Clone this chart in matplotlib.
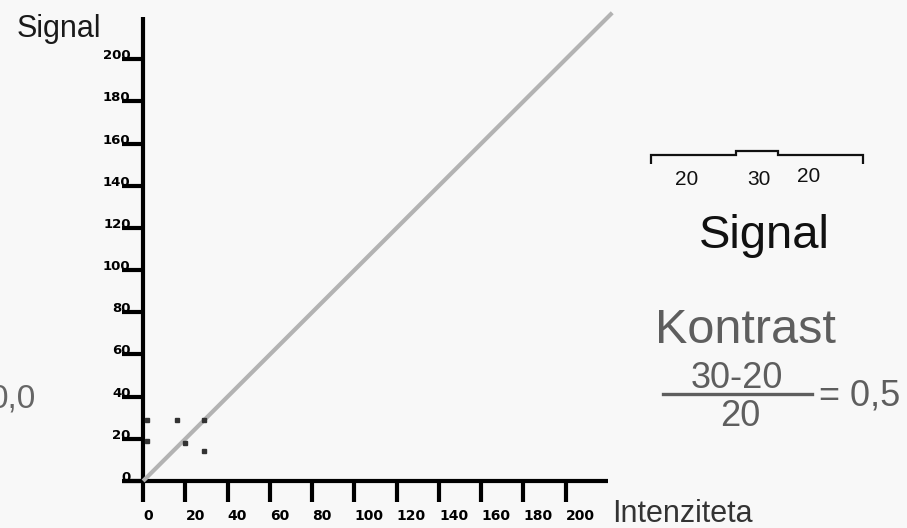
import matplotlib
matplotlib.use("Agg")
import matplotlib.pyplot as plt
from matplotlib.lines import Line2D

# data
tick_values = [0, 20, 40, 60, 80, 100, 120, 140, 160, 180, 200]
line_x = [0, 222]
line_y = [0, 222]
dots_x = [2, 2, 16, 20, 29, 29]
dots_y = [29, 19, 29, 18, 29, 14]

profile_levels = [20, 30, 20]
profile_edges = [0, 2, 3, 5]

W, H = 907, 528
BG = "#f8f8f8"

plt.rcParams["font.family"] = ["Liberation Sans", "DejaVu Sans"]


def px(x, y):
    """pixel position (top-left origin) -> figure fraction"""
    return x / W, (H - y) / H


fig = plt.figure(figsize=(W / 100, H / 100), dpi=100, facecolor=BG)

# main axes: x from -10..220, y from 0..220
left, bottom = px(122, 481)
ax = fig.add_axes([left, bottom, 486 / W, 464 / H])
ax.set_facecolor(BG)
ax.set_xlim(-10, 220)
ax.set_ylim(0, 220)

for side in ("top", "right"):
    ax.spines[side].set_visible(False)
ax.spines["left"].set_position(("data", 0))
ax.spines["bottom"].set_position(("data", 0))
for side in ("left", "bottom"):
    ax.spines[side].set_linewidth(3)
    ax.spines[side].set_color("black")
    ax.spines[side].set_capstyle("butt")

ax.set_xticks(tick_values)
ax.set_xticklabels([str(v) for v in tick_values])
ax.set_yticks(tick_values)
ax.set_yticklabels([str(v) for v in tick_values])
ax.tick_params(axis="both", direction="out", length=15, width=3, color="black")
ax.tick_params(axis="y", pad=-6)
ax.tick_params(axis="x", pad=5)
for lab in ax.get_yticklabels():
    lab.set_fontfamily("DejaVu Sans")
    lab.set_fontweight("heavy")
    lab.set_fontsize(9.5)
    lab.set_verticalalignment("baseline")
for lab in ax.get_xticklabels():
    lab.set_fontfamily("DejaVu Sans")
    lab.set_fontweight("heavy")
    lab.set_fontsize(10)
    lab.set_horizontalalignment("left")

ax.plot(line_x, line_y, color="#b3b3b3", lw=3, clip_on=False, zorder=3,
        solid_capstyle="butt")
ax.plot(dots_x, dots_y, ls="none", marker="s", ms=3.2, color="#333333",
        zorder=4)

# axis titles
fig.text(*px(17, 37), "Signal", fontsize=22, color="#1a1a1a",
         ha="left", va="baseline")
fig.text(*px(612, 522), "Intenziteta", fontsize=22, color="#333333",
         ha="left", va="baseline")
fig.text(*px(36, 407), "0,0", fontsize=24, color="#666666",
         ha="right", va="baseline")

# signal profile sketch (upper right)
x0, y0 = px(651, 164)
x1, y1 = px(863, 151)
pax = fig.add_axes([x0, y0, x1 - x0, y1 - y0])
pax.set_xlim(profile_edges[0], profile_edges[-1])
pax.set_ylim(0, 30)
pax.axis("off")
pax.stairs(profile_levels, profile_edges, baseline=0, fill=False,
           color="#111111", lw=1.6, clip_on=False)

label_pos = [(687, 185), (759, 185), (809, 182)]
for (lx, ly), val in zip(label_pos, profile_levels):
    fig.text(*px(lx, ly), str(val), fontsize=15, color="#111111",
             ha="center", va="baseline")

fig.text(*px(764, 248), "Signal", fontsize=34, color="#111111",
         ha="center", va="baseline")

# contrast formula
fig.text(*px(655, 343), "Kontrast", fontsize=35, color="#5e5e5e",
         ha="left", va="baseline")
fig.text(*px(737, 388), "30-20", fontsize=26, color="#5e5e5e",
         ha="center", va="baseline")
fig.add_artist(Line2D([663 / W, 812 / W], [(H - 394) / H] * 2,
                      color="#5e5e5e", lw=2.4))
fig.text(*px(740, 426), "20", fontsize=26, color="#5e5e5e",
         ha="center", va="baseline")
fig.text(*px(819, 406), "= 0,5", fontsize=26, color="#5e5e5e",
         ha="left", va="baseline")

fig.savefig("out.png", dpi=100, facecolor=BG)
